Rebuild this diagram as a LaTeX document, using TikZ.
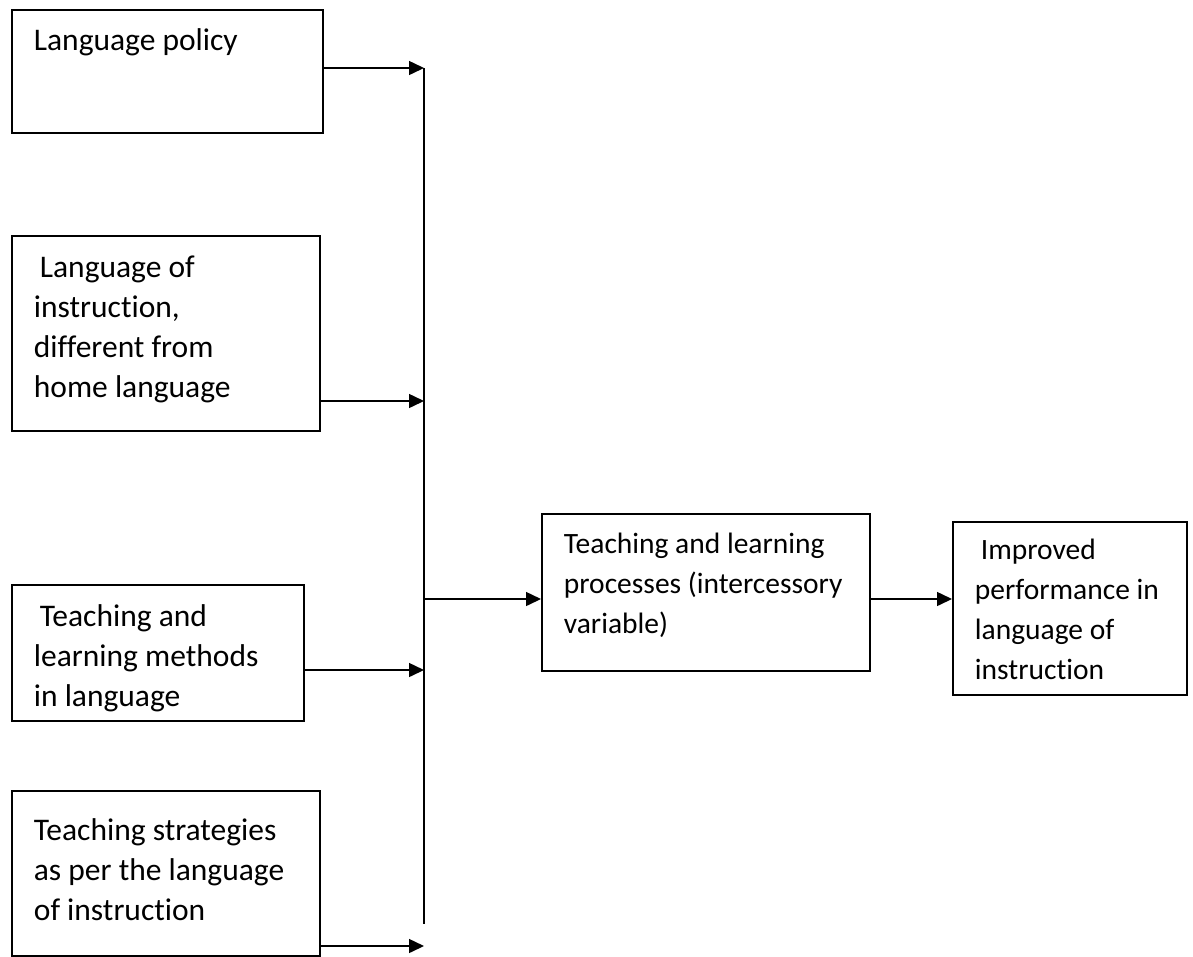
\documentclass[tikz,border=0pt]{standalone}
\usepackage{fontspec}
\setmainfont{Carlito}[Ligatures={NoCommon,NoContextual}]
\usetikzlibrary{arrows.meta}
\newcommand{\txtsize}{31.5}
\newcommand{\boxtxt}[4][42pt]{\begin{minipage}[t][#3][t]{#2}\fontsize{\txtsize}{40}\selectfont\leftskip=22pt\relax\rule{0pt}{#1}#4\end{minipage}}
\tikzset{
  box/.style={draw, line width=1.8pt, inner sep=0pt, anchor=north west},
  arr/.style={-{Triangle[length=15pt,width=14pt]}, line width=1.5pt},
  bus/.style={line width=1.5pt}
}
\begin{document}
\begin{tikzpicture}[x=1pt,y=1pt]
\useasboundingbox (0,0) rectangle (1193,-956);
\node[box] (b1) at (11,-9) {\boxtxt[41pt]{311pt}{123pt}{Language policy}};
\node[box] (b2) at (11,-235) {\boxtxt{308pt}{195pt}{\hspace*{6pt}Language of\\instruction,\\different from\\home language}};
\node[box] (b3) at (11,-584) {\boxtxt{292pt}{136pt}{\hspace*{6pt}Teaching and\\learning methods\\in language}};
\node[box] (b4) at (11,-790) {\boxtxt[50pt]{308pt}{165pt}{Teaching strategies\\as per the language\\of instruction}};
\renewcommand{\txtsize}{29.5}
\node[box] (b5) at (541,-513) {\boxtxt[40pt]{328pt}{157pt}{Teaching and learning\\processes (intercessory\\variable)}};
\node[box] (b6) at (952,-521) {\boxtxt[38pt]{234pt}{173pt}{\hspace*{6pt}Improved\\performance in\\language of\\instruction}};
\coordinate (t1) at (424,-68);
\coordinate (t2) at (424,-401);
\coordinate (t3) at (424,-670);
\coordinate (t4) at (424,-946);
\coordinate (busend) at (424,-924);
\coordinate (j) at (424,-599);
\draw[bus] (t1) -- (busend);
\draw[arr] (b1.east |- t1) -- (t1);
\draw[arr] (b2.east |- t2) -- (t2);
\draw[arr] (b3.east |- t3) -- (t3);
\draw[arr] (b4.east |- t4) -- (t4);
\draw[arr] (j) -- (b5.west |- j);
\draw[arr] (b5.east |- j) -- (b6.west |- j);
\end{tikzpicture}
\end{document}
